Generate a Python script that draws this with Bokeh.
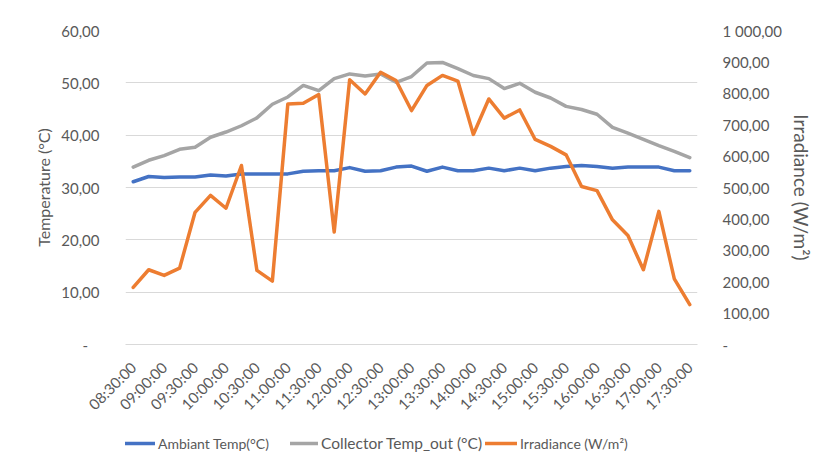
from math import pi
from bokeh.plotting import figure
from bokeh.layouts import column
from bokeh.models import LinearAxis, Range1d, FixedTicker, Legend, LegendItem, ColumnDataSource
from bokeh.embed import file_html
from bokeh.resources import INLINE

times = ["08:30:00", "08:45:00", "09:00:00", "09:15:00", "09:30:00", "09:45:00",
         "10:00:00", "10:15:00", "10:30:00", "10:45:00", "11:00:00", "11:15:00",
         "11:30:00", "11:45:00", "12:00:00", "12:15:00", "12:30:00", "12:45:00",
         "13:00:00", "13:15:00", "13:30:00", "13:45:00", "14:00:00", "14:15:00",
         "14:30:00", "14:45:00", "15:00:00", "15:15:00", "15:30:00", "15:45:00",
         "16:00:00", "16:15:00", "16:30:00", "16:45:00", "17:00:00", "17:15:00",
         "17:30:00"]

ambient = [31.1, 32.1, 31.9, 32.0, 32.0, 32.4, 32.2, 32.6, 32.6, 32.6, 32.6, 33.1,
           33.2, 33.2, 33.8, 33.1, 33.2, 33.9, 34.1, 33.1, 33.9, 33.2, 33.2, 33.7,
           33.2, 33.7, 33.2, 33.7, 34.0, 34.2, 34.0, 33.7, 33.9, 33.9, 33.9, 33.2,
           33.2]

collector = [33.9, 35.2, 36.1, 37.3, 37.7, 39.6, 40.6, 41.8, 43.3, 45.9, 47.3, 49.5,
             48.5, 50.8, 51.7, 51.3, 51.7, 50.1, 51.2, 53.8, 53.9, 52.7, 51.4, 50.8,
             48.9, 49.9, 48.2, 47.1, 45.5, 44.9, 44.0, 41.5, 40.4, 39.2, 38.0, 36.9,
             35.7]

irradiance = [182, 238, 220, 243, 421, 475, 434, 570, 236, 202, 766, 768, 796, 358,
              843, 798, 867, 841, 745, 825, 857, 839, 669, 782, 721, 747, 653, 631,
              604, 503, 490, 397, 347, 238, 424, 209, 127]

series_names = ["Ambiant Temp(°C)", "Collector Temp_out (°C)", "Irradiance (W/m²)"]
series_colors = ["#4472C4", "#A5A5A5", "#ED7D31"]

temp_ticks = [0, 10, 20, 30, 40, 50, 60]
temp_labels = ["-\u00a0\u00a0\u00a0", "10,00", "20,00", "30,00", "40,00", "50,00", "60,00"]
irr_ticks = [0, 100, 200, 300, 400, 500, 600, 700, 800, 900, 1000]
irr_labels = ["-", "100,00", "200,00", "300,00", "400,00", "500,00", "600,00",
              "700,00", "800,00", "900,00", "1 000,00"]

FONT = "Lato"
TXT = "#595959"
GRID = "#D9D9D9"

idx = list(range(len(times)))
src = ColumnDataSource(dict(x=idx, amb=ambient, col=collector, irr=irradiance))

p = figure(frame_width=572, frame_height=314, output_backend="svg", toolbar_location=None,
           x_range=Range1d(-0.5, len(times) - 0.5), y_range=Range1d(0, 60),
           min_border_left=125, min_border_right=115, min_border_top=30, min_border_bottom=88)
p.extra_y_ranges = {"irr": Range1d(0, 1000)}
p.outline_line_color = None
p.background_fill_color = "white"
p.border_fill_color = "white"

# x axis
xa = p.xaxis[0]
xa.ticker = FixedTicker(ticks=idx[::2])
xa.major_label_overrides = {i: times[i] for i in idx[::2]}
xa.major_label_orientation = pi / 4
xa.major_label_text_font = FONT
xa.major_label_text_font_size = "15px"
xa.major_label_text_color = TXT
xa.major_tick_line_color = None
xa.minor_tick_line_color = None
xa.axis_line_color = GRID
xa.major_label_standoff = 14

# left axis
ya = p.yaxis[0]
ya.ticker = FixedTicker(ticks=temp_ticks)
ya.major_label_overrides = dict(zip(temp_ticks, temp_labels))
ya.axis_label = "Temperature (°C)"
ya.axis_label_text_font = FONT
ya.axis_label_text_font_size = "16px"
ya.axis_label_text_font_style = "normal"
ya.axis_label_text_color = TXT
ya.axis_label_standoff = 5
ya.major_label_text_font = FONT
ya.major_label_text_font_size = "15px"
ya.major_label_text_color = TXT
ya.major_tick_line_color = None
ya.minor_tick_line_color = None
ya.axis_line_color = None
ya.major_label_standoff = 20

# right axis
ra = LinearAxis(y_range_name="irr", ticker=FixedTicker(ticks=irr_ticks))
ra.major_label_overrides = dict(zip(irr_ticks, irr_labels))
ra.axis_label = "Irradiance (W/m²)"
ra.axis_label_text_font = FONT
ra.axis_label_text_font_size = "19px"
ra.axis_label_text_font_style = "normal"
ra.axis_label_text_color = TXT
ra.axis_label_standoff = 5
ra.major_label_text_font = FONT
ra.major_label_text_font_size = "15px"
ra.major_label_text_color = TXT
ra.major_tick_line_color = None
ra.minor_tick_line_color = None
ra.axis_line_color = None
ra.major_label_standoff = 19
p.add_layout(ra, "right")

p.xgrid.visible = False
p.ygrid.ticker = FixedTicker(ticks=temp_ticks[1:])
p.ygrid.grid_line_color = GRID
p.ygrid.grid_line_width = 1

p.line("x", "amb", source=src, line_color=series_colors[0], line_width=3.5, line_join="round", line_cap="round")
p.line("x", "col", source=src, line_color=series_colors[1], line_width=3.5, line_join="round", line_cap="round")
p.line("x", "irr", source=src, y_range_name="irr", line_color=series_colors[2], line_width=3.5,
       line_join="round", line_cap="round")

# legend strip below the chart (its frame is aligned with the chart's frame)
lg = figure(width=812, height=22, output_backend="svg", toolbar_location=None,
            x_axis_type=None, y_axis_type=None, x_range=Range1d(0, 1), y_range=Range1d(0, 1),
            min_border_left=125, min_border_right=115, min_border_top=0, min_border_bottom=0)
lg.outline_line_color = None
lg.xgrid.visible = False
lg.ygrid.visible = False
leg_offsets = [0, 165, 360]
leg_sizes = ["14px", "15.5px", "14px"]
leg_glyph_w = [30, 28, 32]
for name, c, off, fs, gw in zip(series_names, series_colors, leg_offsets, leg_sizes, leg_glyph_w):
    r = lg.line(x=[-5, -4], y=[-5, -5], line_color=c, line_width=3.5, line_cap="round")
    lg.add_layout(Legend(items=[LegendItem(label=name, renderers=[r])], location=(off, 2),
                         border_line_color=None, background_fill_alpha=0,
                         label_text_font=FONT, label_text_font_size=fs, label_text_color=TXT,
                         glyph_width=gw, glyph_height=16, label_standoff=3,
                         padding=0, margin=0, label_height=18))

layout = column(p, lg, spacing=0)
open("out.html", "w").write(file_html(layout, INLINE))
